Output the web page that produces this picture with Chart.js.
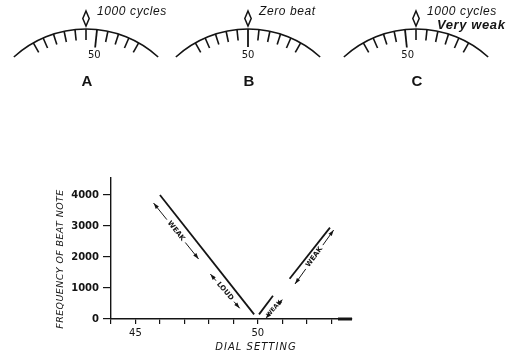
<!DOCTYPE html>
<html>
<head>
<meta charset="utf-8">
<title>Dial setting and beat note</title>
<script src="https://cdn.jsdelivr.net/npm/chart.js@4.4.0/dist/chart.umd.min.js"></script>
<style>
    html, body { margin: 0; padding: 0; background: #fff; }
</style>
</head>
<body>
<canvas id="chart" width="518" height="354"></canvas>
<script>
// Axis ticks
var xTickValues = [44, 45, 46, 47, 48, 49, 50, 51, 52, 53];
var xTickLabels = ['', '45', '', '', '', '', '50', '', '', ''];
var yTickValues = [0, 1000, 2000, 3000, 4000];

// Beat note frequency against dial setting
var leftDial = [46, 49.85];
var leftFreq = [4000, 150];
var rightLowDial = [50.05, 50.62];
var rightLowFreq = [150, 750];
var rightHighDial = [51.3, 52.95];
var rightHighFreq = [1300, 2950];

// Double arrows drawn beside the lines
var noteLabels = ['WEAK', 'LOUD', 'WEAK', 'WEAK'];
var noteDialFrom = [45.74, 48.06, 50.32, 51.52];
var noteFreqFrom = [3740, 1450, 20, 1130];
var noteDialTo = [47.58, 49.26, 51.02, 53.1];
var noteFreqTo = [1935, 345, 640, 2870];

// The three dials drawn above the graph
var dialNames = ['A', 'B', 'C'];
var dialReadings = [49, 50, 51];
var dialNotes = [['1000 cycles'], ['Zero beat'], ['1000 cycles', 'Very weak']];

var ink = '#141414';

function points(xs, ys) {
    return xs.map(function (x, i) { return { x: x, y: ys[i] }; });
}

// small filled arrow head at (x, y) pointing along angle a
function arrowHead(ctx, x, y, a) {
    ctx.save();
    ctx.translate(x, y);
    ctx.rotate(a);
    ctx.beginPath();
    ctx.moveTo(0, 0);
    ctx.lineTo(-6, -2);
    ctx.lineTo(-6, 2);
    ctx.closePath();
    ctx.fill();
    ctx.restore();
}

function drawDial(ctx, cx, reading, name, notes) {
    var R = 107, apexY = 29, cy = apexY + R, half = 0.74, step = 0.103;
    ctx.save();
    ctx.strokeStyle = ink;
    ctx.fillStyle = ink;
    ctx.lineWidth = 1.6;
    ctx.beginPath();
    ctx.arc(cx, cy, R, -Math.PI / 2 - half, -Math.PI / 2 + half);
    ctx.stroke();

    // scale ticks, turned so the reading sits under the pointer
    for (var v = reading - 5; v <= reading + 5; v++) {
        var a = (v - reading) * step;
        var len = v === 50 ? 18 : 11;
        var s = Math.sin(a), c = Math.cos(a);
        ctx.lineWidth = v === 50 ? 1.8 : 1.6;
        ctx.beginPath();
        ctx.moveTo(cx + R * s, cy - R * c);
        ctx.lineTo(cx + (R - len) * s, cy - (R - len) * c);
        ctx.stroke();
        if (v === 50) {
            ctx.font = '10px "DejaVu Sans"';
            ctx.textAlign = 'center';
            ctx.textBaseline = 'middle';
            ctx.fillText('50', cx + (R - len - 8) * s, cy - (R - len - 8) * c);
        }
    }

    // pointer
    ctx.lineWidth = 1.5;
    ctx.beginPath();
    ctx.moveTo(cx, 11);
    ctx.lineTo(cx + 3.2, 18.5);
    ctx.lineTo(cx, 26);
    ctx.lineTo(cx - 3.2, 18.5);
    ctx.closePath();
    ctx.stroke();

    ctx.font = 'bold 15px "Liberation Sans"';
    ctx.textAlign = 'center';
    ctx.textBaseline = 'middle';
    ctx.fillText(name, cx + 1, 82);

    ctx.textAlign = 'left';
    ctx.letterSpacing = '0.6px';
    ctx.font = 'italic 12px "Liberation Sans"';
    ctx.fillText(notes[0], cx + 11, 12);
    if (notes[1]) {
        ctx.font = 'italic bold 13px "Liberation Sans"';
        ctx.fillText(notes[1], cx + 21, 25);
    }
    ctx.restore();
}

var extrasPlugin = {
    id: 'extras',
    afterDraw: function (chart) {
        var ctx = chart.ctx;
        var xs = chart.scales.x, ys = chart.scales.y;
        var area = chart.chartArea;

        // dials
        var dialCenters = [86, 248, 416];
        for (var d = 0; d < dialNames.length; d++) {
            drawDial(ctx, dialCenters[d], dialReadings[d], dialNames[d], dialNotes[d]);
        }

        ctx.save();
        ctx.strokeStyle = ink;
        ctx.fillStyle = ink;

        // heavy end of the dial axis
        ctx.lineWidth = 3;
        ctx.beginPath();
        ctx.moveTo(area.right - 14, area.bottom);
        ctx.lineTo(area.right, area.bottom);
        ctx.stroke();

        // axis titles, set off-centre as in the drawing
        ctx.letterSpacing = '1px';
        ctx.font = 'italic 10px "DejaVu Sans"';
        ctx.textAlign = 'center';
        ctx.textBaseline = 'middle';
        ctx.fillText('DIAL SETTING', 256, 347);
        ctx.save();
        ctx.translate(61, 259);
        ctx.rotate(-Math.PI / 2);
        ctx.letterSpacing = '0.4px';
        ctx.font = 'italic 9.5px "DejaVu Sans"';
        ctx.fillText('FREQUENCY OF BEAT NOTE', 0, 0);
        ctx.restore();
        ctx.letterSpacing = '0px';

        // WEAK / LOUD arrows
        for (var i = 0; i < noteLabels.length; i++) {
            var x1 = xs.getPixelForValue(noteDialFrom[i]);
            var y1 = ys.getPixelForValue(noteFreqFrom[i]);
            var x2 = xs.getPixelForValue(noteDialTo[i]);
            var y2 = ys.getPixelForValue(noteFreqTo[i]);
            var a = Math.atan2(y2 - y1, x2 - x1);
            var len = Math.hypot(x2 - x1, y2 - y1);
            ctx.font = (len < 35 ? 'bold 6px' : 'bold 7px') + ' "DejaVu Sans"';
            var gap = ctx.measureText(noteLabels[i]).width / 2 + 3;

            ctx.save();
            ctx.translate(x1, y1);
            ctx.rotate(a);
            ctx.lineWidth = 0.9;
            ctx.beginPath();
            ctx.moveTo(0, 0);
            ctx.lineTo(len / 2 - gap, 0);
            ctx.moveTo(len / 2 + gap, 0);
            ctx.lineTo(len, 0);
            ctx.stroke();
            arrowHead(ctx, 0, 0, Math.PI);
            arrowHead(ctx, len, 0, 0);
            ctx.textAlign = 'center';
            ctx.textBaseline = 'middle';
            ctx.fillText(noteLabels[i], len / 2, 0);
            ctx.restore();
        }
        ctx.restore();
    }
};

var lineStyle = {
    showLine: true,
    borderColor: ink,
    borderWidth: 1.8,
    pointRadius: 0,
    fill: false
};

new Chart(document.getElementById('chart').getContext('2d'), {
    type: 'scatter',
    data: {
        datasets: [
            Object.assign({ data: points(leftDial, leftFreq) }, lineStyle),
            Object.assign({ data: points(rightLowDial, rightLowFreq) }, lineStyle),
            Object.assign({ data: points(rightHighDial, rightHighFreq) }, lineStyle)
        ]
    },
    options: {
        responsive: false,
        animation: false,
        layout: { padding: { left: 50, top: 178, right: 166, bottom: 1 } },
        plugins: {
            legend: { display: false },
            tooltip: { enabled: false }
        },
        scales: {
            x: {
                type: 'linear',
                min: 44,
                max: 53.85,
                afterBuildTicks: function (scale) {
                    scale.ticks = xTickValues.map(function (v) { return { value: v }; });
                },
                afterFit: function (scale) { scale.height = 34; },
                ticks: {
                    callback: function (value) { return xTickLabels[xTickValues.indexOf(value)]; },
                    font: { family: 'DejaVu Sans', size: 10 },
                    color: ink,
                    padding: 3,
                    maxRotation: 0,
                    autoSkip: false
                },
                grid: { drawOnChartArea: false, drawTicks: true, tickLength: 5, color: ink, lineWidth: 1.2 },
                border: { color: ink, width: 1.4 }
            },
            y: {
                type: 'linear',
                min: 0,
                max: 4550,
                afterBuildTicks: function (scale) {
                    scale.ticks = yTickValues.map(function (v) { return { value: v }; });
                },
                afterFit: function (scale) { scale.width = 61; },
                ticks: {
                    callback: function (value) { return String(value); },
                    font: { family: 'DejaVu Sans', size: 10, weight: 'bold' },
                    color: ink,
                    padding: 4
                },
                grid: { drawOnChartArea: false, drawTicks: true, tickLength: 8, color: ink, lineWidth: 1.2 },
                border: { color: ink, width: 1.4 }
            }
        }
    },
    plugins: [extrasPlugin]
});
</script>
</body>
</html>
